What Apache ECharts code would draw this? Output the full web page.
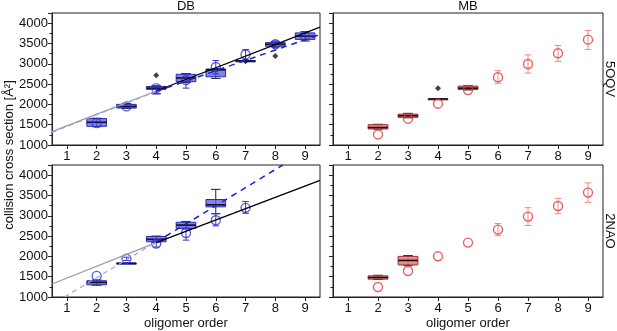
<!DOCTYPE html>
<html>
<head>
<meta charset="utf-8">
<script src="https://cdn.jsdelivr.net/npm/echarts@6/dist/echarts.min.js"></script>
<style>
  html, body { margin: 0; padding: 0; background: #fff; }
  #chart { width: 617px; height: 331px; }
</style>
</head>
<body>
<div id="chart"></div>
<script>
// oligomer orders on the x axis
const orders = [1, 2, 3, 4, 5, 6, 7, 8, 9];

// boxes: [order, low, q1, median, q3, high]
const dbOqvBoxes = [
  [2, 1450, 1460, 1560, 1650, 1660],
  [3, 1900, 1910, 1950, 2000, 2020],
  [4, 2260, 2370, 2400, 2440, 2460],
  [5, 2540, 2560, 2650, 2740, 2760],
  [6, 2640, 2680, 2850, 2870, 2880],
  [7, 3065, 3068, 3070, 3072, 3075],
  [8, 3420, 3430, 3480, 3520, 3540],
  [9, 3560, 3600, 3680, 3760, 3790]
];
const dbNaoBoxes = [
  [2, 1290, 1300, 1360, 1400, 1420],
  [3, 1826, 1828, 1830, 1832, 1834],
  [4, 2350, 2360, 2420, 2490, 2500],
  [5, 2680, 2690, 2770, 2840, 2860],
  [6, 3050, 3220, 3270, 3400, 3650]
];
const mbOqvBoxes = [
  [2, 1390, 1395, 1430, 1500, 1510],
  [3, 1670, 1680, 1720, 1760, 1780],
  [4, 2128, 2130, 2133, 2136, 2138],
  [5, 2355, 2365, 2400, 2450, 2460]
];
const mbNaoBoxes = [
  [2, 1430, 1440, 1480, 1520, 1535],
  [3, 1770, 1790, 1900, 2000, 2020]
];

// model values (open circles): [order, ccs]
const dbOqvModel = [[2, 1540], [3, 1950], [4, 2400], [5, 2600], [6, 2920], [7, 3230], [8, 3480], [9, 3680]];
const dbNaoModel = [[2, 1520], [3, 1940], [4, 2315], [5, 2576], [6, 2890], [7, 3195]];
const mbOqvModel = [[2, 1260], [3, 1648], [4, 2017], [5, 2355], [6, 2667], [7, 2995], [8, 3258], [9, 3594]];
const mbNaoModel = [[2, 1246], [3, 1640], [4, 2002], [5, 2340], [6, 2660], [7, 2980], [8, 3240], [9, 3571]];

// error bars: [order, low, high]
const dbOqvErr = [[4, 2260, 2450], [5, 2400, 2750], [6, 2750, 3080], [7, 3100, 3350], [8, 3400, 3560], [9, 3600, 3760]];
const dbNaoErr = [[3, 1900, 1980], [4, 2230, 2380], [5, 2400, 2700], [6, 2750, 3050], [7, 3060, 3350]];
const mbOqvErr = [[6, 2520, 2830], [7, 2770, 3220], [8, 3060, 3450], [9, 3350, 3820]];
const mbNaoErr = [[6, 2510, 2810], [7, 2760, 3200], [8, 3050, 3430], [9, 3330, 3810]];

// outliers (black diamonds)
const dbOqvOut = [[4, 2715], [7, 3060], [8, 3190]];
const mbOqvOut = [[4, 2400]];

// fit lines
const oqvGrayFit = [[0.5, 1330], [4, 2330]];
const oqvBlackFit = [[4, 2330], [9.5, 3900]];
const oqvLightDash = [[0.5, 1310], [4, 2320]];
const oqvBlueDash = [[4, 2320], [9.5, 3720]];
const naoGrayFit = [[0.5, 1320], [4, 2340]];
const naoBlackFit = [[4, 2340], [9.5, 3870]];
const naoLightDash = [[0.92, 1000], [4, 2355]];
const naoBlueDash = [[4, 2355], [8.25, 4250]];

const BLUE = '#3535d8';
const RED = '#e23a3a';

function boxRenderer(fill, stroke) {
  return function (params, api) {
    const x = api.value(0);
    const lo = api.coord([x, api.value(1)]);
    const q1 = api.coord([x, api.value(2)]);
    const md = api.coord([x, api.value(3)]);
    const q3 = api.coord([x, api.value(4)]);
    const hi = api.coord([x, api.value(5)]);
    const half = api.size([0.33, 0])[0];
    const cap = api.size([0.16, 0])[0];
    const cx = md[0];
    return {
      type: 'group',
      children: [
        { type: 'line', shape: { x1: cx, y1: lo[1], x2: cx, y2: hi[1] }, style: { stroke: '#222', lineWidth: 1 } },
        { type: 'line', shape: { x1: cx - cap, y1: lo[1], x2: cx + cap, y2: lo[1] }, style: { stroke: '#222', lineWidth: 1 } },
        { type: 'line', shape: { x1: cx - cap, y1: hi[1], x2: cx + cap, y2: hi[1] }, style: { stroke: '#222', lineWidth: 1 } },
        { type: 'rect', shape: { x: cx - half, y: q3[1], width: half * 2, height: Math.max(q1[1] - q3[1], 1) },
          style: { fill: fill, stroke: stroke, lineWidth: 1 } },
        { type: 'line', shape: { x1: cx - half, y1: md[1], x2: cx + half, y2: md[1] }, style: { stroke: '#111', lineWidth: 1.6 } }
      ]
    };
  };
}

function errRenderer(color) {
  return function (params, api) {
    const x = api.value(0);
    const lo = api.coord([x, api.value(1)]);
    const hi = api.coord([x, api.value(2)]);
    const cap = api.size([0.11, 0])[0];
    const st = { stroke: color, lineWidth: 1 };
    return {
      type: 'group',
      children: [
        { type: 'line', shape: { x1: lo[0], y1: lo[1], x2: hi[0], y2: hi[1] }, style: st },
        { type: 'line', shape: { x1: lo[0] - cap, y1: lo[1], x2: lo[0] + cap, y2: lo[1] }, style: st },
        { type: 'line', shape: { x1: hi[0] - cap, y1: hi[1], x2: hi[0] + cap, y2: hi[1] }, style: st }
      ]
    };
  };
}

const grids = [
  { left: 52, top: 13, width: 268, height: 132 },
  { left: 333, top: 13, width: 270, height: 132 },
  { left: 52, top: 165, width: 268, height: 132 },
  { left: 333, top: 165, width: 270, height: 132 }
].map(g => Object.assign({ show: true, borderColor: '#222', borderWidth: 1 }, g));

const font = 'Liberation Sans, Arial, sans-serif';
const axisFont = { color: '#111', fontSize: 13, fontFamily: font };

const xAxes = grids.map((g, i) => ({
  type: 'value', gridIndex: i, min: 0.5, max: 9.5,
  axisLine: { lineStyle: { color: '#222' } },
  axisTick: { customValues: orders, length: 4, lineStyle: { color: '#222' } },
  axisLabel: Object.assign({ customValues: orders, margin: 5 }, axisFont),
  splitLine: { show: false }
}));

const yAxes = grids.map((g, i) => ({
  type: 'value', gridIndex: i, min: 1000, max: 4250, interval: 500,
  axisLine: { show: true, lineStyle: { color: '#222' } },
  axisTick: { show: true, length: 4, lineStyle: { color: '#222' } },
  minorTick: { show: true, splitNumber: 2, length: 2.5, lineStyle: { color: '#222' } },
  axisLabel: Object.assign({ show: i % 2 === 0, showMaxLabel: false, margin: 4,
    formatter: v => String(v) }, axisFont),
  splitLine: { show: false }
}));

function boxSeries(data, idx, fill, stroke) {
  return { type: 'custom', xAxisIndex: idx, yAxisIndex: idx, data: data, clip: true, z: 2,
    renderItem: boxRenderer(fill, stroke) };
}
function errSeries(data, idx, color) {
  return { type: 'custom', xAxisIndex: idx, yAxisIndex: idx, data: data, clip: true, z: 3,
    renderItem: errRenderer(color) };
}
function circleSeries(data, idx, color) {
  return { type: 'scatter', xAxisIndex: idx, yAxisIndex: idx, data: data, symbol: 'circle', symbolSize: 9, z: 4,
    itemStyle: { color: 'rgba(0,0,0,0)', borderColor: color, borderWidth: 1.4 } };
}
function outlierSeries(data, idx) {
  return { type: 'scatter', xAxisIndex: idx, yAxisIndex: idx, data: data, symbol: 'diamond', symbolSize: 6, z: 4,
    itemStyle: { color: '#111' } };
}
function fitSeries(data, idx, color, type, width) {
  return { type: 'line', xAxisIndex: idx, yAxisIndex: idx, data: data, symbol: 'none', z: 5, clip: true,
    lineStyle: { color: color, width: width, type: type } };
}

const series = [
  boxSeries(dbOqvBoxes, 0, 'rgba(95,95,240,0.78)', '#2a2ab0'),
  errSeries(dbOqvErr, 0, BLUE),
  circleSeries(dbOqvModel, 0, BLUE),
  outlierSeries(dbOqvOut, 0),
  fitSeries(oqvGrayFit, 0, '#999', 'solid', 1.2),
  fitSeries(oqvLightDash, 0, '#a0a0ee', [5, 4], 1.2),
  fitSeries(oqvBlackFit, 0, '#000', 'solid', 1.3),
  fitSeries(oqvBlueDash, 0, '#1f1fcf', [6, 5], 1.5),

  boxSeries(mbOqvBoxes, 1, 'rgba(235,120,120,0.85)', '#a03030'),
  errSeries(mbOqvErr, 1, '#f08a8a'),
  circleSeries(mbOqvModel, 1, RED),
  outlierSeries(mbOqvOut, 1),

  boxSeries(dbNaoBoxes, 2, 'rgba(95,95,240,0.78)', '#2a2ab0'),
  errSeries(dbNaoErr, 2, BLUE),
  circleSeries(dbNaoModel, 2, BLUE),
  fitSeries(naoGrayFit, 2, '#999', 'solid', 1.2),
  fitSeries(naoLightDash, 2, '#a0a0ee', [5, 4], 1.2),
  fitSeries(naoBlackFit, 2, '#000', 'solid', 1.3),
  fitSeries(naoBlueDash, 2, '#1f1fcf', [6, 5], 1.5),

  boxSeries(mbNaoBoxes, 3, 'rgba(235,120,120,0.85)', '#a03030'),
  errSeries(mbNaoErr, 3, '#f08a8a'),
  circleSeries(mbNaoModel, 3, RED)
];

function label(text, x, y, rotation) {
  return { type: 'text', x: x, y: y, rotation: rotation || 0,
    style: { text: text, fill: '#111', font: '13px ' + font, textAlign: 'center', textVerticalAlign: 'middle' } };
}

const chart = echarts.init(document.getElementById('chart'));
chart.setOption({
  animation: false,
  grid: grids,
  xAxis: xAxes,
  yAxis: yAxes,
  series: series,
  graphic: [
    label('DB', 186, 6),
    label('MB', 468, 6),
    label('5OQV', 610, 79, -Math.PI / 2),
    label('2NAO', 610, 231, -Math.PI / 2),
    label('collision cross section [Å²]', 9, 155, Math.PI / 2),
    label('oligomer order', 186, 323),
    label('oligomer order', 468, 323)
  ]
});
</script>
</body>
</html>
